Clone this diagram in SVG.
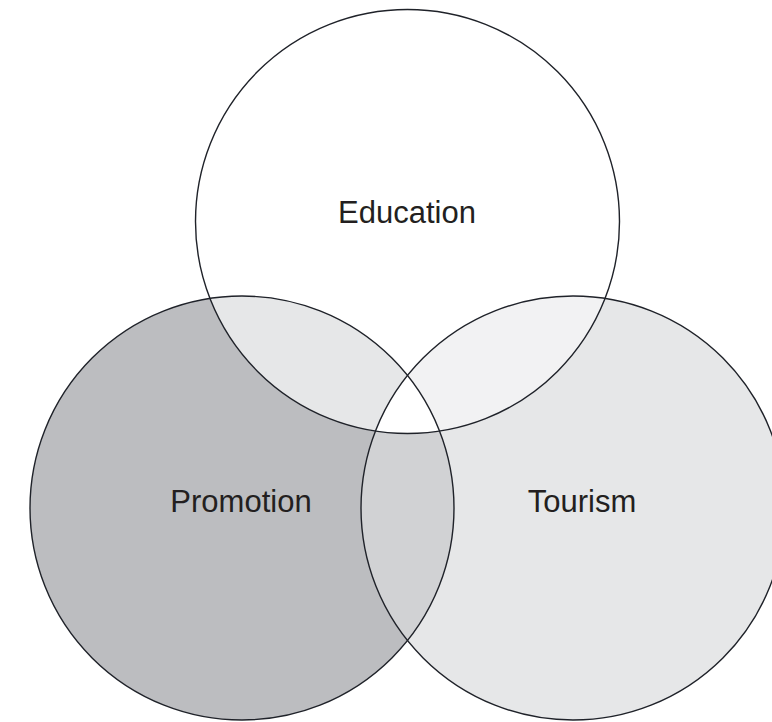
<svg xmlns="http://www.w3.org/2000/svg" width="772" height="722" viewBox="0 0 772 722">
  <style>
    .outline { fill: none; stroke: #1f2229; stroke-width: 1.4; }
    .label { font-family: "Liberation Sans", Arial, sans-serif; font-size: 31px; fill: #231f20; text-anchor: middle; }
  </style>
  <defs>
    <clipPath id="clipEdu"><circle cx="407.5" cy="221.5" r="212"/></clipPath>
    <clipPath id="clipPro"><circle cx="242" cy="508" r="212"/></clipPath>
    <clipPath id="clipTou"><circle cx="573" cy="508" r="212"/></clipPath>
  </defs>
  <rect width="772" height="722" fill="#ffffff"/>
  <g id="regions">
    <circle cx="242" cy="508" r="212" fill="#bcbdc0"/>
    <circle cx="573" cy="508" r="212" fill="#e6e7e8"/>
    <g clip-path="url(#clipPro)">
      <circle cx="573" cy="508" r="212" fill="#d1d2d4"/>
    </g>
    <g clip-path="url(#clipEdu)">
      <circle cx="242" cy="508" r="212" fill="#e6e7e8"/>
      <circle cx="573" cy="508" r="212" fill="#f2f2f3"/>
      <g clip-path="url(#clipPro)">
        <circle cx="573" cy="508" r="212" fill="#ffffff"/>
      </g>
    </g>
  </g>
  <g id="education">
    <circle class="outline" cx="407.5" cy="221.5" r="212"/>
    <text class="label" x="407" y="223">Education</text>
  </g>
  <g id="promotion">
    <circle class="outline" cx="242" cy="508" r="212"/>
    <text class="label" x="241" y="512">Promotion</text>
  </g>
  <g id="tourism">
    <circle class="outline" cx="573" cy="508" r="212"/>
    <text class="label" x="582" y="512">Tourism</text>
  </g>
  <g id="connectors"/>
</svg>
